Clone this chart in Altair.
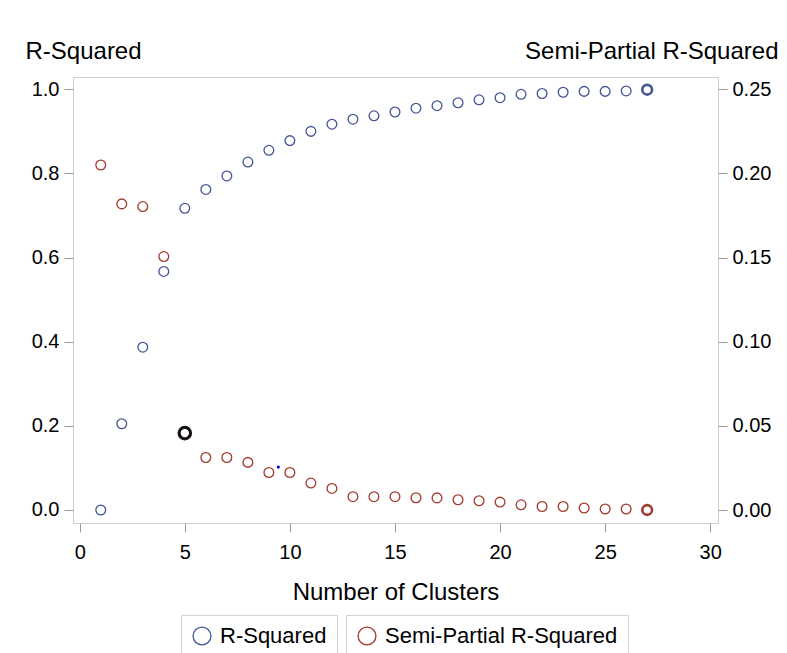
import altair as alt
import pandas as pd

# ---- data ----
clusters = list(range(1, 28))
r_squared = [0.000, 0.205, 0.387, 0.567, 0.717, 0.762, 0.794, 0.827, 0.855, 0.878,
             0.900, 0.917, 0.929, 0.937, 0.946, 0.955, 0.961, 0.968, 0.975, 0.980,
             0.988, 0.990, 0.993, 0.995, 0.995, 0.996, 0.999]
semi_partial = [0.2050, 0.1819, 0.1803, 0.1506, 0.0457, 0.0312, 0.0312, 0.0283, 0.0223, 0.0223,
                0.0160, 0.0128, 0.0079, 0.0079, 0.0079, 0.0073, 0.0072, 0.0061, 0.0055, 0.0047,
                0.0031, 0.0021, 0.0021, 0.0012, 0.0006, 0.0006, 0.0000]
highlight_k = [5]
highlight_sp = [0.0457]
stray_x = [9.45]
stray_y = [0.102]

series_names = ["R-Squared", "Semi-Partial R-Squared"]
x_ticks = [0, 5, 10, 15, 20, 25, 30]
left_ticks = [0.0, 0.2, 0.4, 0.6, 0.8, 1.0]
right_ticks = [0.0, 0.05, 0.10, 0.15, 0.20, 0.25]

BLUE = "#445694"
RED = "#A23A2E"
FONT = "Liberation Sans"

df = pd.DataFrame({"k": clusters, "rsq": r_squared, "sprsq": semi_partial})
df["s1"] = series_names[0]
df["s2"] = series_names[1]
hl = pd.DataFrame({"k": highlight_k, "sprsq": highlight_sp})
stray = pd.DataFrame({"k": stray_x, "rsq": stray_y})

x_enc = alt.X("k:Q", scale=alt.Scale(domain=[-0.32, 30.37], nice=False, zero=False),
              axis=alt.Axis(values=x_ticks, title="Number of Clusters", titlePadding=18,
                            labelPadding=10))

y_left_scale = alt.Scale(domain=[-0.0309, 1.0292], nice=False, zero=False)
y_right_scale = alt.Scale(domain=[-0.00772, 0.2573], nice=False, zero=False)

bold_cond = alt.condition("datum.k == 27", alt.value(2.6), alt.value(1.3))

blue = alt.Chart(df).mark_point(shape="circle", filled=False, size=95, opacity=1).encode(
    x=x_enc,
    y=alt.Y("rsq:Q", scale=y_left_scale,
            axis=alt.Axis(orient="left", values=left_ticks, format=".1f", title="R-Squared",
                          titleAngle=0, titleAlign="left", titleBaseline="alphabetic",
                          titleX=-48, titleY=-19, labelPadding=5)),
    color=alt.Color("s1:N", scale=alt.Scale(domain=[series_names[0]], range=[BLUE]),
                    legend=alt.Legend(title=None, orient="none", legendX=108, legendY=538)),
    strokeWidth=bold_cond,
)

dot = alt.Chart(stray).mark_circle(size=10, color="#0000ff", opacity=1).encode(
    x=alt.X("k:Q"), y=alt.Y("rsq:Q", scale=y_left_scale)
)

red = alt.Chart(df).mark_point(shape="circle", filled=False, size=95, opacity=1).encode(
    x=alt.X("k:Q"),
    y=alt.Y("sprsq:Q", scale=y_right_scale,
            axis=alt.Axis(orient="right", values=right_ticks, format=".2f",
                          title="Semi-Partial R-Squared", titleAngle=0, titleAlign="right",
                          titleBaseline="alphabetic", titleX=60, titleY=-19, labelPadding=5)),
    stroke=alt.Stroke("s2:N", scale=alt.Scale(domain=[series_names[1]], range=[RED]),
                      legend=alt.Legend(title=None, orient="none", legendX=273, legendY=538)),
    strokeWidth=bold_cond,
)

black = alt.Chart(hl).mark_point(shape="circle", filled=False, size=135, strokeWidth=3,
                                 color="#111111", opacity=1).encode(
    x=alt.X("k:Q"), y=alt.Y("sprsq:Q", scale=y_right_scale)
)

left = alt.layer(blue, dot)
right = alt.layer(red, black)

chart = alt.layer(left, right).resolve_scale(y="independent").properties(
    width=645, height=446,
    autosize=alt.AutoSizeParams(type="none"),
    padding={"left": 65, "top": 69, "right": 61, "bottom": 130},
).configure_view(stroke="#cfcfcf", strokeWidth=1).configure_axis(
    grid=False, domain=False, tickColor="#9a9a9a", tickSize=9, tickWidth=1,
    labelFont=FONT, titleFont=FONT, labelFontSize=20, titleFontSize=24,
    labelColor="#000000", titleColor="#000000", titleFontWeight="normal",
).configure_legend(
    labelFont=FONT, labelFontSize=22, labelColor="#000000", symbolSize=320,
    symbolStrokeWidth=1.3, symbolType="circle", strokeColor="#d3d3d3", padding=10,
    labelOffset=7, labelLimit=400, cornerRadius=0,
)

chart.save("out.html", embed_options={"renderer": "svg", "actions": False})
